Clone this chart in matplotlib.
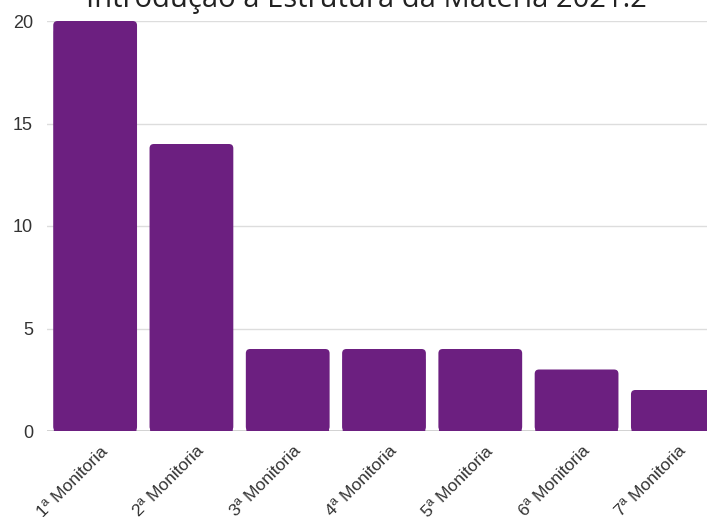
import matplotlib
matplotlib.use("Agg")
from matplotlib import pyplot as plt
from matplotlib import transforms
from matplotlib.patches import FancyBboxPatch

categories = ["1ª Monitoria", "2ª Monitoria", "3ª Monitoria", "4ª Monitoria",
              "5ª Monitoria", "6ª Monitoria", "7ª Monitoria"]
values = [20, 14, 4, 4, 4, 3, 2]
yticks = [0, 5, 10, 15, 20]

W, H = 707, 517
fig = plt.figure(figsize=(W / 100, H / 100), dpi=100)
ax = fig.add_axes([47 / W, 1 - 431 / H, 674 / W, 410 / H])

bar_color = "#6c1f80"
bar_w = 0.87
px_x, px_y = 96.3, 20.5  # pixels per data unit
for i, v in enumerate(values):
    patch = FancyBboxPatch((i - bar_w / 2, 0), bar_w, v,
                           boxstyle="round,pad=0,rounding_size=0.045",
                           mutation_aspect=px_x / px_y,
                           facecolor=bar_color, edgecolor="none", zorder=3,
                           snap=False)
    ax.add_patch(patch)
# square off the bottoms
bars = ax.bar(range(len(values)), [v - 0.5 for v in values],
              width=bar_w - 0.012, color=bar_color, zorder=3)
for b in bars:
    b.set_snap(False)

ax.set_xlim(-0.5, len(values) - 0.5)
ax.set_ylim(0, 20)
ax.set_yticks(yticks)
ax.set_yticklabels([str(t) for t in yticks], family="Liberation Sans",
                   fontsize=13, color="#333333")
ax.set_xticks(range(len(categories)))
ax.set_xticklabels(categories, rotation=45, ha="right", rotation_mode="anchor",
                   family="Liberation Sans", fontsize=12.5, color="#333333")
ax.tick_params(axis="both", length=0)
ax.tick_params(axis="y", pad=10)
ax.tick_params(axis="x", pad=9)
shift = transforms.ScaledTranslation(5 / 100, 0, fig.dpi_scale_trans)
for lbl in ax.get_xticklabels():
    lbl.set_transform(lbl.get_transform() + shift)
ax.grid(axis="y", color="#dddddd", linewidth=1, zorder=0)
for s in ax.spines.values():
    s.set_visible(False)
ax.axhline(0, color="#cccccc", linewidth=1.2, zorder=2)

fig.text(366 / W, 1 - 7 / H, "Introdução à Estrutura da Matéria 2021.2",
         ha="center", va="baseline", fontsize=21, family="Open Sans",
         color="#222222")

fig.savefig("out.png", dpi=100)
